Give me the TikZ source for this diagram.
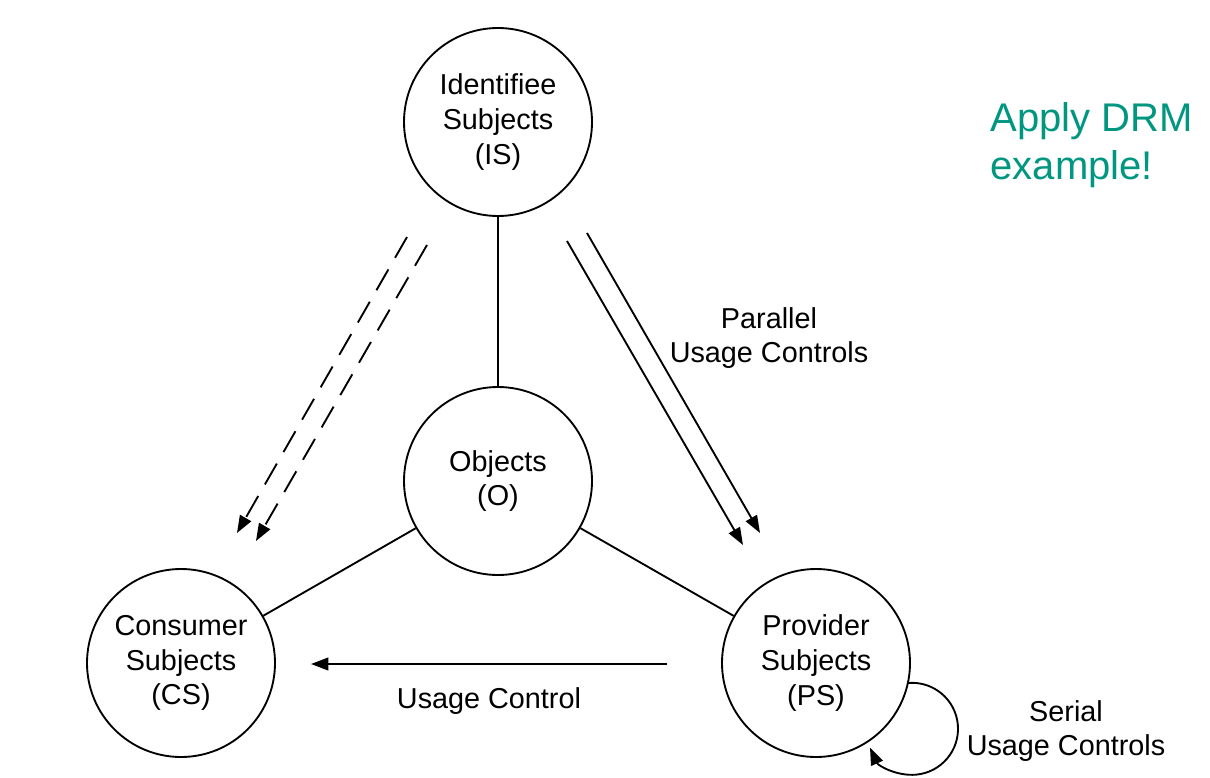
\documentclass[tikz,border=0pt]{standalone}
\usepackage{fontspec}
\setmainfont{Liberation Sans}
\usetikzlibrary{arrows.meta}
\definecolor{teal1}{RGB}{0,150,128}
\begin{document}
\begin{tikzpicture}[x=0.75pt,y=-0.75pt,
  ent/.style={circle,draw,line width=1.4pt,minimum size=141pt,inner sep=0pt,align=center,
    font=\fontsize{21.6pt}{26pt}\selectfont},
  lbl/.style={align=center,font=\fontsize{21.6pt}{25.5pt}\selectfont},
  conn/.style={line width=1.4pt},
  arr/.style={line width=1.4pt,-{Triangle[length=13pt,width=9.5pt]}},
  dashd/.style={dash pattern=on 18pt off 10pt}]
\useasboundingbox (0,0) rectangle (1210,778);
\node[ent] (IS) at (498,122) {Identifiee\\Subjects\\(IS)};
\node[ent] (O) at (498,481) {Objects\\(O)};
\node[ent] (CS) at (181,663) {Consumer\\Subjects\\(CS)};
\node[ent] (PS) at (816,663) {Provider\\Subjects\\(PS)};
\draw[conn] (IS) -- (O);
\draw[conn] (O) -- (CS);
\draw[conn] (O) -- (PS);
% dashed arrows
\coordinate (d1s) at (407,237);
\coordinate (d1e) at (237,533);
\coordinate (d2s) at (427,245);
\coordinate (d2e) at (256,541);
\draw[arr,dashd] (d1s) -- (d1e);
\draw[arr,dashd] (d2s) -- (d2e);
% solid arrows
\coordinate (p1s) at (567,241);
\coordinate (p1e) at (743,545);
\coordinate (p2s) at (587,233);
\coordinate (p2e) at (760,533);
\draw[arr] (p1s) -- (p1e);
\draw[arr] (p2s) -- (p2e);
% usage control
\coordinate (us) at (667,664);
\coordinate (ue) at (311,664);
\draw[arr] (us) -- (ue);
% self loop
\coordinate (ls) at (908,683);
\draw[arr] (ls) arc[start angle=-95,end angle=156,radius=46];
\node[lbl] (lpar) at (769,338) {Parallel\\Usage Controls};
\node[lbl] (luc) at (489,701) {Usage Control};
\node[lbl] (lser) at (1066,731) {Serial\\Usage Controls};
\node[anchor=west,align=left,text=teal1,font=\fontsize{30pt}{35.5pt}\selectfont] (drm) at (986,145) {Apply DRM\\example!};
\end{tikzpicture}
\end{document}
